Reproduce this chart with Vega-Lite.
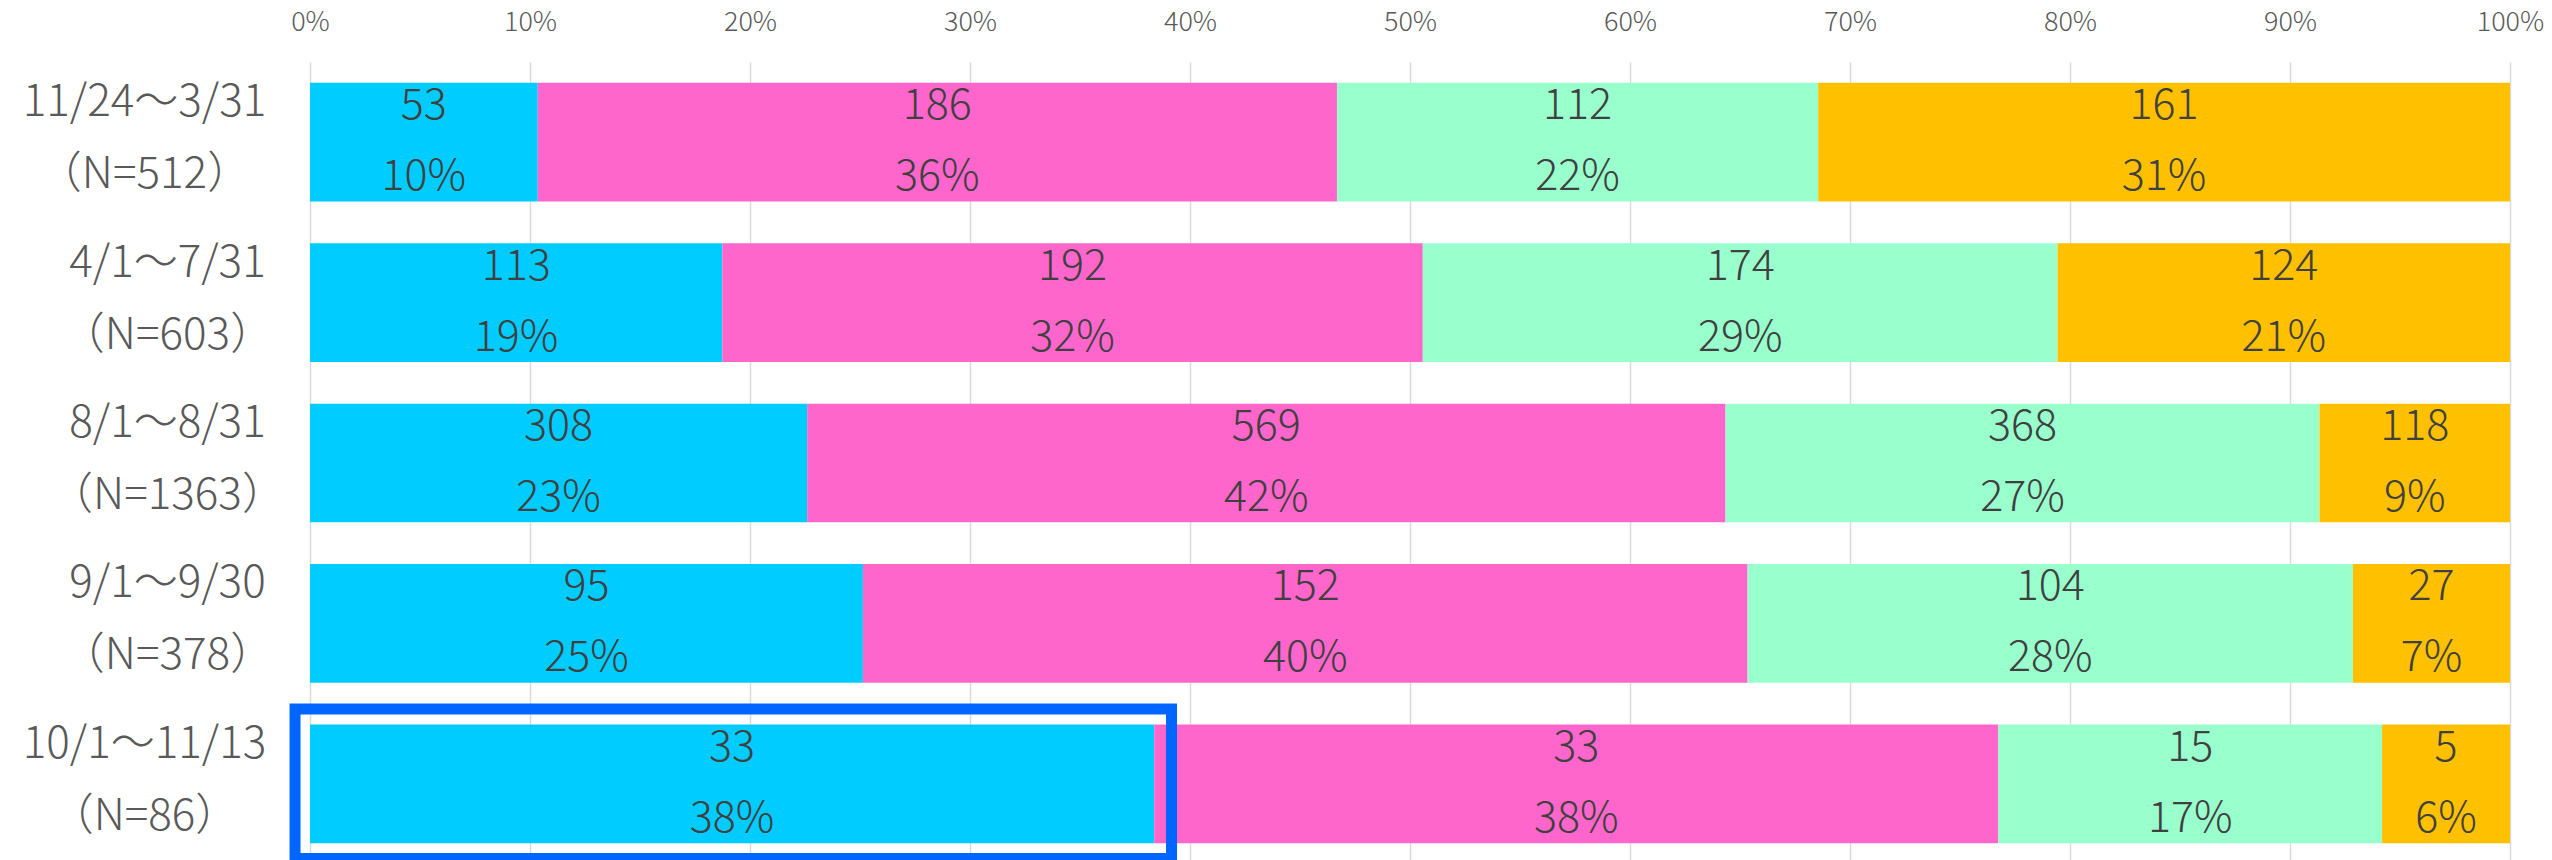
{
  "$schema": "https://vega.github.io/schema/vega-lite/v6.json",
  "autosize": {"type": "none"},
  "width": 2200,
  "height": 802,
  "padding": {"left": 310, "top": 62, "right": 42, "bottom": 0},
  "background": "white",
  "config": {
    "view": {"stroke": null},
    "font": "Noto Sans CJK JP"
  },
  "datasets": {
    "bars": [
      {"period": "11/24～3/31\n（N=512）", "cat": "A", "ord": 1, "count": 53, "pct": "10%"},
      {"period": "11/24～3/31\n（N=512）", "cat": "B", "ord": 2, "count": 186, "pct": "36%"},
      {"period": "11/24～3/31\n（N=512）", "cat": "C", "ord": 3, "count": 112, "pct": "22%"},
      {"period": "11/24～3/31\n（N=512）", "cat": "D", "ord": 4, "count": 161, "pct": "31%"},
      {"period": "4/1～7/31\n（N=603）", "cat": "A", "ord": 1, "count": 113, "pct": "19%"},
      {"period": "4/1～7/31\n（N=603）", "cat": "B", "ord": 2, "count": 192, "pct": "32%"},
      {"period": "4/1～7/31\n（N=603）", "cat": "C", "ord": 3, "count": 174, "pct": "29%"},
      {"period": "4/1～7/31\n（N=603）", "cat": "D", "ord": 4, "count": 124, "pct": "21%"},
      {"period": "8/1～8/31\n（N=1363）", "cat": "A", "ord": 1, "count": 308, "pct": "23%"},
      {"period": "8/1～8/31\n（N=1363）", "cat": "B", "ord": 2, "count": 569, "pct": "42%"},
      {"period": "8/1～8/31\n（N=1363）", "cat": "C", "ord": 3, "count": 368, "pct": "27%"},
      {"period": "8/1～8/31\n（N=1363）", "cat": "D", "ord": 4, "count": 118, "pct": "9%"},
      {"period": "9/1～9/30\n（N=378）", "cat": "A", "ord": 1, "count": 95, "pct": "25%"},
      {"period": "9/1～9/30\n（N=378）", "cat": "B", "ord": 2, "count": 152, "pct": "40%"},
      {"period": "9/1～9/30\n（N=378）", "cat": "C", "ord": 3, "count": 104, "pct": "28%"},
      {"period": "9/1～9/30\n（N=378）", "cat": "D", "ord": 4, "count": 27, "pct": "7%"},
      {"period": "10/1～11/13\n（N=86）", "cat": "A", "ord": 1, "count": 33, "pct": "38%"},
      {"period": "10/1～11/13\n（N=86）", "cat": "B", "ord": 2, "count": 33, "pct": "38%"},
      {"period": "10/1～11/13\n（N=86）", "cat": "C", "ord": 3, "count": 15, "pct": "17%"},
      {"period": "10/1～11/13\n（N=86）", "cat": "D", "ord": 4, "count": 5, "pct": "6%"}
    ],
    "highlight": [
      {"period": "10/1～11/13\n（N=86）", "x0": -0.0068, "x1": 0.3916}
    ]
  },
  "encoding": {
    "y": {
      "field": "period",
      "type": "nominal",
      "sort": null,
      "scale": {
        "domain": ["11/24～3/31\n（N=512）", "4/1～7/31\n（N=603）", "8/1～8/31\n（N=1363）", "9/1～9/30\n（N=378）", "10/1～11/13\n（N=86）"],
        "paddingInner": 0.26,
        "paddingOuter": 0.13
      },
      "axis": {
        "title": null,
        "domain": false,
        "ticks": false,
        "grid": false,
        "labelExpr": "split(datum.label, '\\n')",
        "labelAlign": "center",
        "labelBaseline": "middle",
        "labelOffset": -39,
        "labelPadding": {"condition": {"test": "length(split(datum.value, '\\n')[0]) > 9", "value": 166}, "value": 143},
        "labelFontSize": 44,
        "labelFontWeight": 300,
        "labelLineHeight": 72,
        "labelLimit": 500,
        "labelColor": "#595959"
      }
    }
  },
  "layer": [
    {
      "data": {"name": "bars"},
      "mark": {"type": "bar"},
      "encoding": {
        "x": {
          "field": "count",
          "type": "quantitative",
          "stack": "normalize",
          "scale": {"domain": [0, 1], "nice": false, "zero": false},
          "axis": {
            "orient": "top",
            "title": null,
            "format": ".0%",
            "values": [0, 0.1, 0.2, 0.3, 0.4, 0.5, 0.6, 0.7, 0.8, 0.9, 1],
            "grid": true,
            "gridColor": "#d9d9d9",
            "gridWidth": 1.5,
            "domain": false,
            "ticks": false,
            "tickSize": 0,
            "labelFlush": false,
            "labelOverlap": false,
            "labelPadding": 40,
            "labelBaseline": "middle",
            "labelFontSize": 27,
            "labelFontWeight": 300,
            "labelColor": "#595959"
          }
        },
        "color": {
          "field": "cat",
          "type": "nominal",
          "scale": {"domain": ["A", "B", "C", "D"], "range": ["#00CCFF", "#FF66CC", "#99FFCC", "#FFC000"]},
          "legend": null
        },
        "order": {"field": "ord", "type": "quantitative"}
      }
    },
    {
      "data": {"name": "bars"},
      "mark": {"type": "text", "dy": -36, "fontSize": 43, "fontWeight": 300, "color": "#404040", "baseline": "middle", "align": "center"},
      "encoding": {
        "x": {"field": "count", "type": "quantitative", "stack": "normalize", "bandPosition": 0.5, "scale": {"domain": [0, 1]}},
        "detail": {"field": "cat"},
        "order": {"field": "ord", "type": "quantitative"},
        "text": {"field": "count", "type": "quantitative"}
      }
    },
    {
      "data": {"name": "bars"},
      "mark": {"type": "text", "dy": 35, "fontSize": 43, "fontWeight": 300, "color": "#404040", "baseline": "middle", "align": "center"},
      "encoding": {
        "x": {"field": "count", "type": "quantitative", "stack": "normalize", "bandPosition": 0.5, "scale": {"domain": [0, 1]}},
        "detail": {"field": "cat"},
        "order": {"field": "ord", "type": "quantitative"},
        "text": {"field": "pct", "type": "nominal"}
      }
    },
    {
      "data": {"name": "highlight"},
      "mark": {"type": "rect", "filled": false, "stroke": "#0066FF", "strokeWidth": 11, "clip": false, "height": {"band": 1.26}},
      "encoding": {
        "x": {"field": "x0", "type": "quantitative", "scale": {"domain": [0, 1]}},
        "x2": {"field": "x1"}
      }
    }
  ]
}
